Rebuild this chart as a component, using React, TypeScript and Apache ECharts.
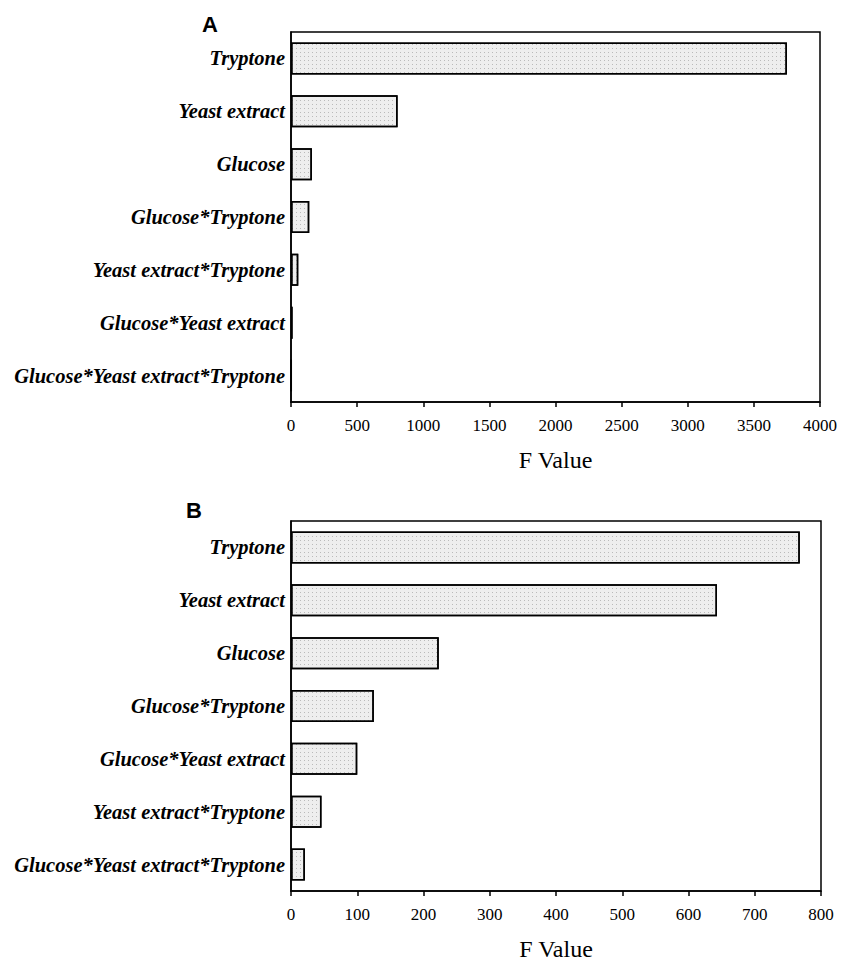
import React, { useEffect, useRef } from "react";
import * as echarts from "echarts";

const categoriesA = [
  "Tryptone",
  "Yeast extract",
  "Glucose",
  "Glucose*Tryptone",
  "Yeast extract*Tryptone",
  "Glucose*Yeast extract",
  "Glucose*Yeast extract*Tryptone",
];
const valuesA = [3750, 806, 158, 138, 55, 12, 4];

const categoriesB = [
  "Tryptone",
  "Yeast extract",
  "Glucose",
  "Glucose*Tryptone",
  "Glucose*Yeast extract",
  "Yeast extract*Tryptone",
  "Glucose*Yeast extract*Tryptone",
];
const valuesB = [768, 643, 223, 125, 100, 46, 21];

const axisA = { min: 0, max: 4000, interval: 500 };
const axisB = { min: 0, max: 800, interval: 100 };
const axisTitle = "F Value";
const panelLabels = ["A", "B"];

const SERIF = "'Liberation Serif', 'Times New Roman', serif";

export default function App() {
  const ref = useRef<HTMLDivElement>(null);
  useEffect(() => {
    if (!ref.current) return;
    const chart = echarts.init(ref.current, null, { renderer: "svg" });
    const catAxis = (gi: number, data: string[]) => ({
      type: "category",
      gridIndex: gi,
      data,
      inverse: true,
      axisLine: { show: true, lineStyle: { color: "#000", width: 1.5 } },
      axisTick: { show: false },
      axisLabel: {
        fontFamily: SERIF,
        fontWeight: "bold",
        fontStyle: "italic",
        fontSize: 20.5,
        color: "#000",
        margin: 6,
      },
    });
    const valAxis = (gi: number, a: { min: number; max: number; interval: number }) => ({
      type: "value",
      gridIndex: gi,
      min: a.min,
      max: a.max,
      interval: a.interval,
      name: axisTitle,
      nameLocation: "middle",
      nameGap: 46,
      nameTextStyle: { fontFamily: SERIF, fontSize: 24, color: "#000" },
      splitLine: { show: false },
      axisLine: { show: true, lineStyle: { color: "#000", width: 1.5 } },
      axisTick: { show: true, length: 5, lineStyle: { color: "#000", width: 1.5 } },
      axisLabel: {
        fontFamily: SERIF,
        fontSize: 17,
        color: "#000",
        margin: 15,
        formatter: (v: number) => String(v),
      },
    });
    const barStyle = {
      color: "#eeeeee",
      borderColor: "#000",
      borderWidth: 1.5,
      decal: {
        symbol: "rect",
        symbolSize: 1,
        color: "rgba(0,0,0,0.22)",
        dashArrayX: [1, 3],
        dashArrayY: [1, 3],
        rotation: 0,
      },
    };
    chart.setOption({
      animation: false,
      grid: [
        { left: 291, top: 32, width: 529, height: 370, show: true, borderColor: "#000", borderWidth: 1.5, backgroundColor: "transparent" },
        { left: 291, top: 521, width: 530, height: 370, show: true, borderColor: "#000", borderWidth: 1.5, backgroundColor: "transparent" },
      ],
      xAxis: [valAxis(0, axisA), valAxis(1, axisB)],
      yAxis: [catAxis(0, categoriesA), catAxis(1, categoriesB)],
      graphic: [
        { type: "text", left: 202, top: 13, style: { text: panelLabels[0], font: "bold 22px 'Liberation Sans', Arial, sans-serif", fill: "#000" } },
        { type: "text", left: 186, top: 499, style: { text: panelLabels[1], font: "bold 22px 'Liberation Sans', Arial, sans-serif", fill: "#000" } },
      ],
      series: [
        { type: "bar", xAxisIndex: 0, yAxisIndex: 0, data: valuesA, barWidth: 32, itemStyle: barStyle },
        { type: "bar", xAxisIndex: 1, yAxisIndex: 1, data: valuesB, barWidth: 32, itemStyle: barStyle },
      ],
    });
    return () => chart.dispose();
  }, []);
  return (
    <div
      ref={ref}
      style={{ position: "fixed", left: 0, top: 0, width: 841, height: 963, background: "#fff" }}
    />
  );
}
